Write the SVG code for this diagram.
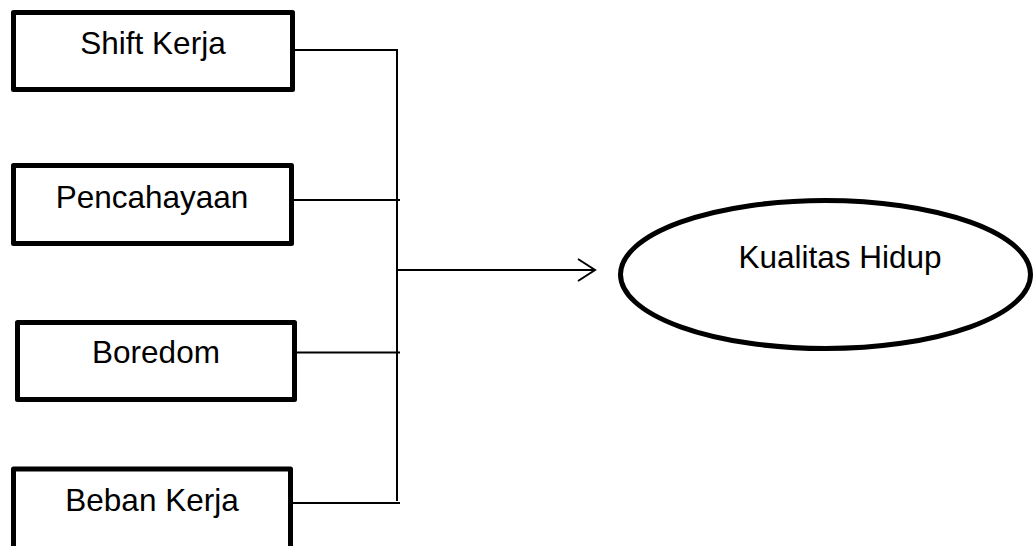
<svg xmlns="http://www.w3.org/2000/svg" width="1035" height="546" viewBox="0 0 1035 546">
<style>
.box{fill:#fff;stroke:#000;stroke-width:5;stroke-linejoin:round}
.lbl{font-family:"Liberation Sans",Arial,sans-serif;font-size:31.5px;fill:#000;text-anchor:middle}
.ln{fill:none;stroke:#000;stroke-width:2}
</style>
<defs>
<marker id="open" viewBox="0 0 20 24" refX="18" refY="12" markerWidth="20" markerHeight="24" markerUnits="userSpaceOnUse" orient="auto">
<path d="M1,1 L18,12 L1,23" fill="none" stroke="#000" stroke-width="2"/>
</marker>
</defs>
<rect width="1035" height="546" fill="#fff"/>
<g id="connectors">
<path class="ln" d="M295,50 H397 V501"/>
<path class="ln" d="M294,200 H400"/>
<path class="ln" d="M297,352.5 H400"/>
<path class="ln" d="M293,503 H400"/>
<path class="ln" d="M398,270 H595" marker-end="url(#open)"/>
</g>
<g id="shift-kerja">
<rect class="box" x="13.5" y="12.5" width="279" height="77"/>
<text class="lbl" x="153" y="54">Shift Kerja</text>
</g>
<g id="pencahayaan">
<rect class="box" x="13.5" y="165.5" width="278" height="78"/>
<text class="lbl" x="152" y="208">Pencahayaan</text>
</g>
<g id="boredom">
<rect class="box" x="17.5" y="322.5" width="277" height="77"/>
<text class="lbl" x="156" y="363">Boredom</text>
</g>
<g id="beban-kerja">
<rect class="box" x="13.5" y="469" width="277" height="82"/>
<text class="lbl" x="152" y="511">Beban Kerja</text>
</g>
<g id="kualitas-hidup">
<ellipse class="box" cx="825.5" cy="274.5" rx="205" ry="74"/>
<text class="lbl" x="840" y="268.3">Kualitas Hidup</text>
</g>
</svg>
